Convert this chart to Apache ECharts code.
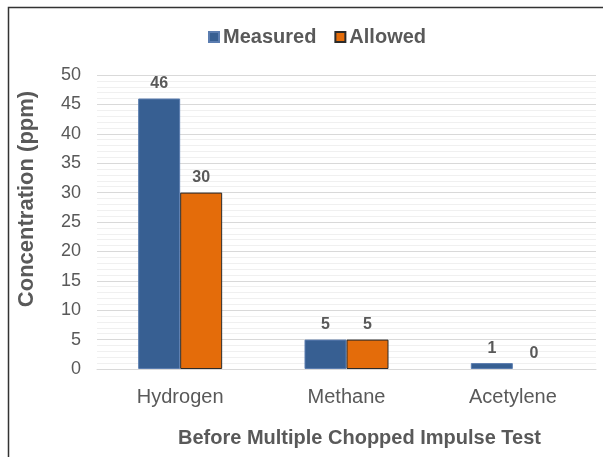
<!DOCTYPE html>
<html><head><meta charset="utf-8">
<script src="https://cdn.jsdelivr.net/npm/echarts@6/dist/echarts.min.js"></script>
<style>html,body{margin:0;padding:0;background:#fff}#c{width:603px;height:457px}</style>
</head><body><div id="c"></div>
<script>
const categories = ['Hydrogen', 'Methane', 'Acetylene'];
const measured = [46, 5, 1];
const allowed = [30, 5, 0];
const seriesNames = ['Measured', 'Allowed'];
const yTitle = 'Concentration (ppm)';
const xTitle = 'Before Multiple Chopped Impulse Test';

const FONT = 'Arial, "Liberation Sans", sans-serif';
const TXT = '#595959';
const chart = echarts.init(document.getElementById('c'), null, {renderer: 'canvas'});
const lbl = {show: true, position: 'top', distance: 7, color: TXT, fontSize: 16, fontWeight: 'bold', fontFamily: FONT};
// zero-height bars draw no outline
const withNoZeroBorder = arr => arr.map(v => v === 0 ? {value: v, itemStyle: {borderWidth: 0}} : v);
chart.setOption({
  animation: false,
  backgroundColor: '#fff',
  graphic: [{type: 'rect', shape: {x: 8.5, y: 7.5, width: 800, height: 800}, style: {fill: 'none', stroke: '#333', lineWidth: 1.5}, silent: true, z: -1}],
  legend: {
    top: 22, left: 203, itemWidth: 10, itemHeight: 10, itemGap: 18, icon: 'rect',
    textStyle: {color: TXT, fontSize: 20, fontWeight: 'bold', fontFamily: FONT, padding: [0, 0, 0, -1]},
    data: seriesNames
  },
  grid: {left: 97, right: 7, top: 75, bottom: 88, containLabel: false},
  xAxis: {
    type: 'category', data: categories,
    axisLine: {show: true, lineStyle: {color: '#d9d9d9'}},
    axisTick: {show: false},
    axisLabel: {color: TXT, fontSize: 20, fontFamily: FONT, margin: 18},
    name: xTitle, nameLocation: 'middle', nameGap: 59,
    nameTextStyle: {color: TXT, fontSize: 20, fontWeight: 'bold', fontFamily: FONT, padding: [0, 0, 0, 26]}
  },
  yAxis: {
    type: 'value', min: 0, max: 50, interval: 5,
    axisLine: {show: false}, axisTick: {show: false},
    axisLabel: {color: TXT, fontSize: 18, fontFamily: FONT, margin: 16},
    splitLine: {lineStyle: {color: '#d9d9d9'}},
    minorTick: {show: false, splitNumber: 5},
    minorSplitLine: {show: true, lineStyle: {color: '#f0f0f0'}},
    name: yTitle, nameLocation: 'middle', nameGap: 59,
    nameTextStyle: {color: TXT, fontSize: 22, fontWeight: 'bold', fontFamily: FONT, padding: [0, 0, 0, 46]}
  },
  series: [
    {name: seriesNames[0], type: 'bar', data: withNoZeroBorder(measured), barWidth: 42, barGap: '0%',
     itemStyle: {color: '#375F92', borderColor: '#5B7DB0', borderWidth: 1}, label: lbl},
    {name: seriesNames[1], type: 'bar', data: withNoZeroBorder(allowed), barWidth: 42, barGap: '0%',
     itemStyle: {color: '#E46C0A', borderColor: '#2b2b2b', borderWidth: 1}, label: lbl}
  ]
});
</script></body></html>
